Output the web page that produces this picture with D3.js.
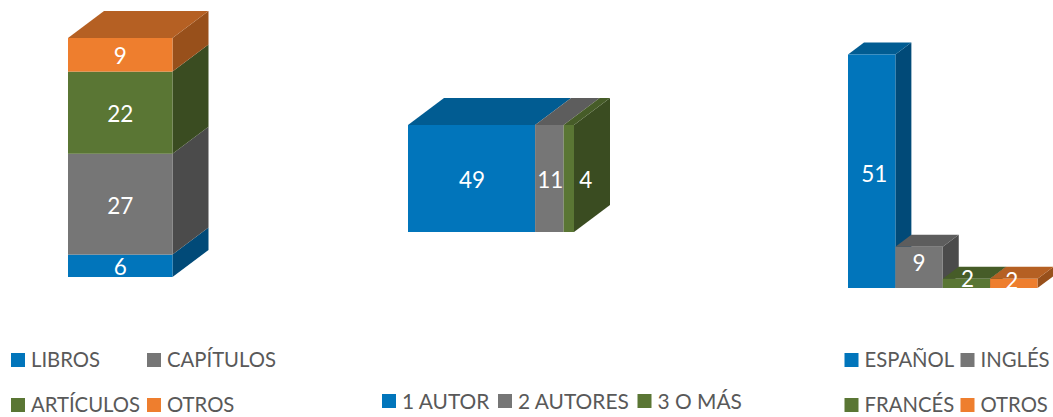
<!DOCTYPE html>
<html><head><meta charset="utf-8">
<script src="https://cdn.jsdelivr.net/npm/d3@7/dist/d3.min.js"></script>
<style>html,body{margin:0;padding:0;background:#fff;overflow:hidden}svg{display:block}text{font-family:Lato,"Open Sans",sans-serif}</style>
</head><body><svg id="c" width="1053" height="417"></svg>
<script>
const tipoCategories = ["LIBROS","CAPÍTULOS","ARTÍCULOS","OTROS"];
const tipoValues = [6,27,22,9];
const autorCategories = ["1 AUTOR","2 AUTORES","3 O MÁS"];
const autorValues = [49,11,4];
const idiomaCategories = ["ESPAÑOL","INGLÉS","FRANCÉS","OTROS"];
const idiomaValues = [51,9,2,2];
const palette = ["#0175BB","#767676","#5A7634","#EE7E2E"];
const topShade = ["#015C92","#5D5D5D","#465C28","#B56023"];
const sideShade = ["#014A78","#4B4B4B","#3A4C21","#98501B"];

const svg = d3.select("#c");
const path = pts => d3.line()(pts) + "Z";
function box(g,x0,x1,y0,y1,dx,dy,i,showTop,showSide){
  if(showSide) g.append("path").attr("d",path([[x1,y0],[x1+dx,y0+dy],[x1+dx,y1+dy],[x1,y1]])).attr("fill",sideShade[i]);
  if(showTop) g.append("path").attr("d",path([[x0,y1],[x0+dx,y1+dy],[x1+dx,y1+dy],[x1,y1]])).attr("fill",topShade[i]);
  g.append("rect").attr("x",x0).attr("y",y1).attr("width",x1-x0).attr("height",y0-y1).attr("fill",palette[i]);
}
function label(g,x,y,t){
  g.append("text").attr("x",x).attr("y",y).attr("text-anchor","middle").attr("dominant-baseline","central")
   .attr("font-size",22.5).attr("fill","#fff").text(t);
}
function cum(vals){let s=0;return vals.map(v=>{const a=s;s+=v;return [a,s];});}

// Chart 1: stacked vertical column
{
  const g=svg.append("g");
  const y=d3.scaleLinear().domain([0,d3.sum(tipoValues)]).range([277,38]);
  const xb=d3.scaleBand().domain(["t"]).range([68,172.5]);
  const st=cum(tipoValues);
  st.forEach((s,i)=>box(g,xb("t"),xb("t")+xb.bandwidth(),y(s[0]),y(s[1]),36,-27,i,i===st.length-1,true));
  st.forEach((s,i)=>label(g,xb("t")+xb.bandwidth()/2,(y(s[0])+y(s[1]))/2+1,tipoValues[i]));
}
// Chart 2: stacked horizontal bar
{
  const g=svg.append("g");
  const x=d3.scaleLinear().domain([0,d3.sum(autorValues)]).range([408,574]);
  const yb=d3.scaleBand().domain(["a"]).range([232,125]);
  const st=cum(autorValues);
  const top=yb("a"),bot=top+yb.bandwidth();
  st.forEach((s,i)=>box(g,x(s[0]),x(s[1]),bot,top,36,-27,i,true,i===st.length-1));
  const off=[0.5,1,17];
  st.forEach((s,i)=>label(g,(x(s[0])+x(s[1]))/2+off[i],179,autorValues[i]));
}
// Chart 3: columns
{
  const g=svg.append("g");
  const y=d3.scaleLinear().domain([0,51]).range([288,54.5]);
  const xb=d3.scaleBand().domain(idiomaCategories).range([848,1037.5]);
  idiomaCategories.forEach((c,i)=>box(g,xb(c),xb(c)+xb.bandwidth(),y(0),y(idiomaValues[i]),16,-12,i,true,true));
  const lx=[2.5,0,1,-2], ly=[2,-5,-5,-3];
  idiomaCategories.forEach((c,i)=>label(g,xb(c)+xb.bandwidth()/2+lx[i],(y(0)+y(idiomaValues[i]))/2+ly[i],idiomaValues[i]));
}
// Legends
function legend(items,size){
  items.forEach(([t,i,sx,ty])=>{
    svg.append("rect").attr("x",sx).attr("y",ty-7).attr("width",14).attr("height",14).attr("fill",palette[i]);
    svg.append("text").attr("x",sx+20).attr("y",ty-1).attr("dominant-baseline","central")
      .attr("font-size",size).attr("fill","#595959").text(t);
  });
}
legend([[tipoCategories[0],0,11,360],[tipoCategories[1],1,147,360],[tipoCategories[2],2,11,405],[tipoCategories[3],3,147,405]],20.3);
legend([[autorCategories[0],0,382,401],[autorCategories[1],1,498,401],[autorCategories[2],2,637.5,401]],20.9);
legend([[idiomaCategories[0],0,844.5,360],[idiomaCategories[1],1,960.5,360],[idiomaCategories[2],2,844.5,405],[idiomaCategories[3],3,960.5,405]],20.3);
</script></body></html>
